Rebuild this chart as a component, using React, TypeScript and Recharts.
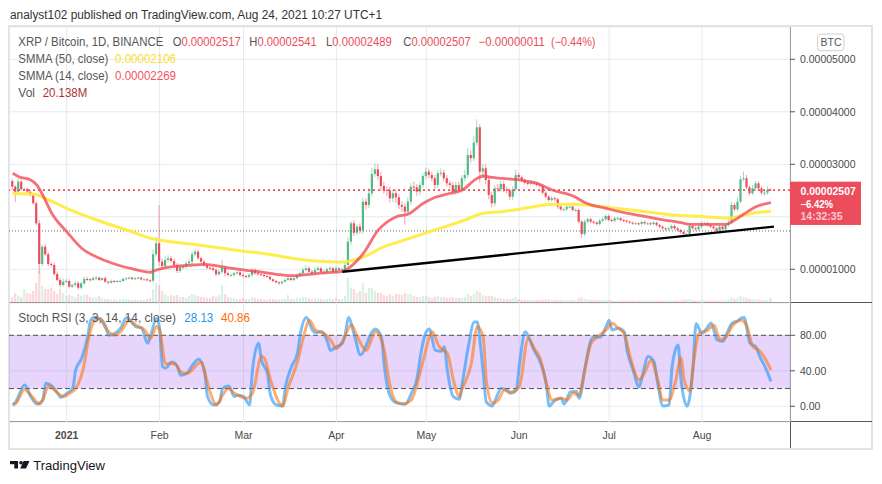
import React from 'react';
import { ComposedChart, Bar, Line, XAxis, YAxis, CartesianGrid, ReferenceLine, ReferenceArea } from 'recharts';

// ---------- DATA (prices in satoshi = 1e-8 BTC, day index 0 = 2020-12-14) ----------
const firstOpen = 2682;
const closes = [
  2574, 2478, 2669, 2524, 2530, 2478, 2415, 2257, 1876, 1101,
  1431, 1286, 1101, 1082, 910, 796, 701, 764, 777, 669,
  701, 733, 649, 733, 815, 810, 796, 829, 840, 796,
  829, 764, 745, 777, 764, 777, 777, 815, 829, 840,
  815, 829, 840, 810, 810, 790, 783, 1286, 1495, 1145,
  1063, 1177, 1210, 1158, 1082, 968, 1050, 1044, 1114, 1145,
  1286, 1335, 1210, 1145, 1082, 1030, 1019, 987, 905, 954,
  1030, 924, 891, 891, 924, 943, 891, 872, 859, 891,
  987, 924, 905, 891, 872, 859, 810, 777, 752, 733,
  764, 796, 829, 796, 829, 891, 924, 987, 1019, 954,
  924, 987, 1019, 954, 954, 1000, 1019, 954, 1019, 987,
  1000, 1082, 1526, 1876, 1697, 1812, 1735, 2288, 2225, 2448,
  2815, 2905, 2777, 2587, 2511, 2497, 2353, 2448, 2372, 2225,
  2193, 2097, 2288, 2574, 2562, 2478, 2606, 2777, 2859, 2796,
  2734, 2606, 2829, 2840, 2734, 2638, 2606, 2478, 2606, 2511,
  2734, 2796, 3177, 3115, 3412, 3705, 2859, 2924, 2701, 2415,
  2257, 2543, 2524, 2625, 2524, 2497, 2383, 2524, 2796, 2753,
  2701, 2650, 2625, 2650, 2638, 2606, 2587, 2459, 2383, 2320,
  2353, 2334, 2193, 2143, 2143, 2193, 2193, 2130, 2130, 1907,
  1672, 1907, 1953, 1907, 1888, 1863, 1926, 1953, 2015, 1939,
  1926, 1972, 1972, 1939, 1926, 1907, 1888, 1876, 1876, 1863,
  1901, 1876, 1876, 1863, 1888, 1844, 1812, 1781, 1762, 1781,
  1825, 1781, 1749, 1711, 1672, 1672, 1825, 1781, 1762, 1812,
  1876, 1876, 1844, 1812, 1781, 1735, 1812, 1762, 1844, 1888,
  2225, 2143, 2288, 2715, 2734, 2562, 2448, 2543, 2638, 2543,
  2459, 2459, 2517, 2507,
];
const wickUp = [
  40, 30, 60, 40, 30, 25, 30, 30, 40, 60,
  40, 50, 40, 30, 40, 50, 40, 60, 40, 30,
  30, 40, 40, 30, 50, 40, 30, 40, 30, 20,
  20, 30, 20, 30, 20, 20, 30, 30, 20, 30,
  20, 20, 30, 20, 20, 20, 20, 80, 120, 730,
  60, 80, 60, 40, 40, 40, 40, 30, 40, 40,
  60, 60, 40, 30, 30, 30, 30, 40, 30, 40,
  150, 40, 30, 30, 30, 30, 30, 30, 20, 30,
  40, 30, 30, 20, 30, 20, 20, 20, 20, 20,
  20, 30, 30, 20, 30, 30, 30, 40, 60, 40,
  30, 50, 40, 30, 30, 30, 40, 30, 40, 30,
  30, 60, 80, 40, 60, 50, 60, 80, 60, 100,
  120, 110, 100, 80, 80, 70, 80, 60, 70, 70,
  70, 60, 80, 70, 100, 60, 60, 60, 80, 60,
  60, 60, 60, 80, 60, 60, 50, 60, 60, 60,
  60, 100, 130, 80, 120, 150, 60, 80, 70, 60,
  60, 60, 80, 60, 60, 50, 40, 60, 100, 40,
  40, 30, 30, 40, 30, 30, 30, 30, 30, 30,
  40, 30, 30, 30, 30, 30, 30, 30, 30, 30,
  30, 40, 30, 30, 30, 30, 30, 40, 30, 30,
  30, 30, 30, 20, 20, 20, 20, 20, 20, 20,
  30, 30, 20, 20, 30, 20, 20, 20, 20, 30,
  30, 30, 20, 20, 20, 30, 50, 30, 30, 40,
  40, 30, 30, 20, 20, 20, 30, 20, 30, 60,
  60, 40, 70, 60, 130, 60, 40, 60, 40, 40,
  40, 40, 60, 24,
];
const wickDown = [
  60, 200, 40, 30, 30, 30, 30, 30, 40, 180,
  40, 30, 40, 40, 30, 30, 40, 30, 30, 30,
  30, 30, 40, 30, 30, 30, 30, 20, 30, 20,
  20, 20, 30, 20, 20, 20, 20, 20, 20, 20,
  20, 20, 20, 20, 20, 20, 30, 40, 40, 80,
  60, 40, 40, 40, 40, 40, 40, 30, 30, 30,
  40, 40, 30, 30, 30, 30, 30, 30, 40, 30,
  40, 60, 30, 30, 30, 30, 30, 30, 30, 30,
  40, 30, 30, 20, 30, 20, 20, 20, 20, 30,
  20, 20, 20, 20, 30, 20, 20, 20, 30, 30,
  30, 20, 30, 30, 30, 20, 40, 30, 30, 30,
  30, 40, 30, 60, 60, 50, 60, 60, 80, 60,
  60, 60, 80, 90, 70, 100, 80, 70, 110, 80,
  100, 250, 80, 60, 60, 80, 60, 60, 60, 60,
  60, 80, 60, 60, 60, 60, 60, 60, 60, 80,
  60, 60, 60, 80, 60, 60, 200, 120, 80, 80,
  80, 60, 50, 50, 60, 50, 60, 60, 40, 40,
  30, 40, 30, 30, 30, 30, 30, 30, 30, 30,
  30, 30, 40, 30, 30, 30, 30, 30, 30, 30,
  80, 40, 30, 30, 30, 30, 30, 30, 30, 30,
  30, 30, 30, 30, 30, 30, 30, 30, 20, 30,
  30, 30, 30, 30, 30, 30, 30, 30, 30, 30,
  30, 30, 30, 30, 60, 40, 30, 30, 30, 30,
  30, 30, 30, 30, 30, 30, 30, 30, 30, 30,
  30, 40, 40, 30, 40, 40, 40, 30, 40, 30,
  40, 60, 40, 18,
];
const volumes = [
  24, 40, 30, 24, 56, 40, 36, 48, 80, 128,
  68, 56, 56, 60, 48, 36, 56, 40, 28, 32,
  28, 24, 36, 28, 32, 32, 24, 20, 24, 28,
  20, 16, 16, 14, 14, 12, 14, 16, 16, 14,
  12, 14, 12, 12, 14, 16, 20, 56, 80, 72,
  48, 36, 28, 32, 28, 32, 24, 24, 20, 28,
  36, 32, 28, 24, 24, 20, 20, 28, 24, 32,
  72, 36, 24, 20, 20, 16, 16, 20, 16, 16,
  24, 20, 16, 16, 14, 12, 16, 16, 14, 14,
  14, 16, 32, 16, 16, 20, 20, 24, 24, 20,
  16, 20, 20, 16, 14, 16, 20, 16, 20, 16,
  16, 28, 100, 60, 56, 40, 48, 80, 40, 60,
  60, 48, 40, 40, 32, 28, 36, 28, 36, 36,
  32, 40, 36, 36, 28, 24, 24, 28, 28, 24,
  20, 24, 28, 24, 24, 20, 20, 24, 20, 20,
  20, 24, 36, 28, 36, 48, 44, 32, 28, 28,
  28, 24, 20, 20, 16, 16, 16, 20, 24, 16,
  14, 12, 12, 12, 12, 12, 12, 14, 14, 14,
  12, 12, 14, 12, 12, 12, 12, 12, 12, 20,
  24, 16, 14, 12, 12, 12, 12, 12, 12, 12,
  12, 10, 10, 10, 10, 10, 10, 10, 10, 10,
  10, 10, 10, 10, 10, 10, 10, 10, 10, 10,
  10, 10, 10, 10, 14, 14, 16, 12, 10, 12,
  12, 10, 10, 10, 10, 10, 10, 10, 12, 14,
  24, 16, 20, 28, 24, 20, 16, 16, 14, 14,
  12, 12, 12, 20,
];
const smma50Days = [0, 7, 12, 18, 29, 40, 46, 51, 62, 74, 85, 96, 104, 110, 116, 124, 129, 140, 151, 157, 163, 174, 179, 187, 198, 209, 220, 231, 239, 243, 248, 253];
const smma50Vals = [2444, 2429, 2320, 2162, 1920, 1711, 1591, 1539, 1463, 1368, 1291, 1187, 1149, 1139, 1210, 1431, 1526, 1735, 1939, 2067, 2097, 2193, 2234, 2238, 2181, 2111, 2034, 2002, 1972, 2021, 2078, 2106];
const smma14Days = [0, 2, 6, 8, 10, 13, 18, 23, 29, 35, 40, 46, 47, 50, 60, 64, 71, 77, 82, 88, 93, 99, 105, 109, 111, 117, 122, 128, 132, 137, 141, 146, 150, 155, 157, 160, 169, 175, 180, 187, 191, 198, 204, 211, 216, 223, 226, 231, 238, 240, 244, 248, 253];
const smma14Vals = [2829, 2764, 2701, 2606, 2415, 2067, 1716, 1400, 1210, 1082, 1006, 943, 968, 1019, 1082, 1095, 1038, 987, 954, 905, 878, 905, 935, 949, 987, 1305, 1749, 2002, 2053, 2257, 2372, 2448, 2511, 2734, 2777, 2749, 2701, 2638, 2511, 2396, 2269, 2162, 2078, 2006, 1953, 1888, 1857, 1857, 1857, 1907, 2053, 2193, 2269];
const trendDays = [110, 254];
const trendVals = [954, 1813];
const stochKDays = [0, 1, 4, 6, 8, 10, 11, 13, 15, 16, 18, 20, 21, 23, 25, 26, 27, 29, 31, 32, 34, 36, 38, 40, 41, 43, 45, 46, 48, 49, 50, 51, 53, 55, 56, 58, 60, 62, 64, 65, 67, 69, 70, 72, 74, 75, 77, 79, 80, 82, 83, 85, 86, 88, 90, 91, 93, 95, 96, 98, 100, 101, 103, 105, 106, 108, 110, 111, 112, 114, 116, 118, 119, 121, 123, 124, 126, 128, 129, 131, 133, 135, 136, 138, 139, 141, 143, 144, 145, 147, 149, 150, 152, 154, 155, 156, 157, 158, 160, 161, 163, 165, 166, 168, 169, 171, 173, 174, 176, 178, 179, 181, 183, 184, 186, 188, 189, 191, 193, 194, 196, 198, 199, 200, 202, 204, 205, 207, 209, 210, 212, 214, 215, 217, 219, 220, 222, 223, 225, 227, 228, 230, 232, 233, 235, 237, 238, 240, 242, 243, 244, 246, 248, 249, 251, 253];
const stochKVals = [1.5, 5, 24, 11, 2.6, 7, 26, 23, 14.6, 10, 14.6, 20, 41, 54, 78, 97, 100, 99, 90, 80, 82, 88, 100, 93.5, 90, 88, 71, 80, 99, 88, 44.6, 43, 50, 44.6, 35, 37, 46.5, 53, 39, 11, 1.5, 5, 20, 23, 11, 12.5, 11, 1.5, 41, 71, 52, 37, 12.5, 1.5, 0.3, 22, 44.6, 60, 82, 100, 86, 83, 84, 73, 63, 67, 71, 82, 100, 80, 58, 69, 78, 87, 78, 44.6, 11, 4, 3.4, 2.6, 14.6, 33, 56, 84, 87, 63, 62, 67, 41, 11, 8, 26, 67, 95, 95, 71, 37, 5, 0.3, 7, 20, 18, 14.6, 18, 44.6, 84, 71, 63, 50, 26, 0.3, 7, 9, 2.6, 16, 17, 9, 44.6, 75, 78, 78, 90, 97, 86, 88, 84, 63, 41, 22, 33, 56, 50, 30, 0.3, 1.5, 44.6, 69, 30, 0, 44.6, 93, 82, 90, 94, 75, 73, 80, 93.5, 96.5, 99, 100, 71, 67, 58, 44.6, 28.13];
const stochDDays = [0, 1, 4, 6, 9, 10, 12, 14, 17, 19, 21, 24, 25, 27, 29, 31, 34, 36, 39, 41, 44, 46, 48, 49, 51, 54, 56, 58, 63, 64, 66, 68, 70, 72, 74, 76, 78, 80, 83, 84, 86, 89, 90, 92, 95, 97, 99, 101, 104, 106, 108, 110, 113, 115, 118, 120, 121, 124, 125, 126, 128, 130, 133, 135, 137, 140, 142, 143, 145, 147, 149, 150, 153, 155, 157, 158, 160, 162, 164, 166, 169, 172, 174, 176, 178, 180, 183, 185, 187, 189, 190, 193, 195, 198, 200, 202, 204, 206, 209, 211, 213, 215, 217, 219, 221, 223, 224, 226, 227, 229, 232, 234, 236, 238, 240, 243, 245, 247, 249, 251, 253];
const stochDVals = [1.5, 3, 19, 12.7, 2.6, 7, 23, 18, 11, 14.6, 20, 50, 71, 95, 99, 88, 80, 84, 97, 91.6, 86, 76.6, 90, 86, 48, 48, 39, 37, 50, 39, 14.6, 1.5, 12.5, 20, 14.6, 11, 9, 14.6, 56, 54, 30, 3.4, 0.3, 22, 50, 78, 97, 86, 82, 75, 65, 73, 91.6, 78, 63, 78, 84, 63, 40, 22, 5, 2.6, 7, 26, 52, 84, 69, 65, 60, 30, 11, 20, 48, 90, 78, 30, 3.4, 7, 18, 16, 22, 76.6, 65, 54, 26, 7, 9, 7, 14.6, 12.5, 26, 71, 78, 86, 93.5, 88, 82, 56, 30, 39, 52, 33, 7, 7, 26, 54, 30, 17, 44.6, 82, 86, 91.6, 75, 78, 90, 97, 90, 67, 63, 54, 40.86];
const monthTickDays = [18, 49, 77, 108, 138, 169, 199, 230];
const monthTickLabels = ['2021', 'Feb', 'Mar', 'Apr', 'May', 'Jun', 'Jul', 'Aug'];
const priceAxisTicks = [1000, 3000, 4000, 5000];
const priceGridTicks = [1000, 2000, 3000, 4000, 5000];
const stochTicks = [0, 40, 80];
const lastPrice = 2507;
const markerPrice = 1730;

// ---------- STYLE ----------
const FONT = '"Liberation Sans", Arial, sans-serif';
const GREEN = '#53b987';
const RED = '#eb4d5c';
const GRID = '#e3ebf1';
const AXIS = '#555';
const X_DOMAIN: [number, number] = [-1.25, 259.35];
const PRICE_DOMAIN: [number, number] = [358, 5615];
const STOCH_DOMAIN: [number, number] = [-17.7, 116.4];

// ---------- DERIVED TABLES ----------
const candles = closes.map((c, i) => {
  const o = i === 0 ? firstOpen : closes[i - 1];
  const high = Math.max(o, c) + wickUp[i];
  const low = Math.min(o, c) - wickDown[i];
  return { i, open: o, close: c, high, low, range: [low, high], vol: volumes[i] };
});
const toSeries = (days: number[], vals: number[]) => days.map((d, k) => ({ i: d, v: vals[k] }));
const smma50 = toSeries(smma50Days, smma50Vals);
const smma14 = toSeries(smma14Days, smma14Vals);
const trend = toSeries(trendDays, trendVals);
const stochK = toSeries(stochKDays, stochKVals);
const stochD = toSeries(stochDDays, stochDVals);

const fmtPrice = (v: number) => (v / 1e8).toFixed(8);

const CandleShape = (props: any) => {
  const { x, y, width, height, payload } = props;
  if (!payload || x == null || y == null) return null;
  const top = Math.min(y, y + height);
  const bot = Math.max(y, y + height);
  const { open, close, high, low } = payload;
  const span = high - low || 1;
  const py = (v: number) => top + ((high - v) / span) * (bot - top);
  const cx = x + width / 2;
  const color = close >= open ? GREEN : RED;
  const bTop = py(Math.max(open, close));
  const bBot = py(Math.min(open, close));
  return (
    <g>
      <line x1={cx} x2={cx} y1={top} y2={bot} stroke={color} strokeOpacity={0.55} strokeWidth={1} />
      <rect x={cx - 1.1} y={bTop} width={2.2} height={Math.max(1, bBot - bTop)} fill={color} />
    </g>
  );
};

const VolShape = (props: any) => {
  const { x, y, width, height, payload } = props;
  if (!payload || x == null) return null;
  const cx = x + width / 2;
  const color = payload.close >= payload.open ? GREEN : RED;
  return <rect x={cx - 1.1} y={y} width={2.2} height={Math.max(0, height)} fill={color} fillOpacity={0.22} />;
};

const PriceTag = (props: any) => {
  const vb = props.viewBox || {};
  const x0 = (vb.x || 0) + (vb.width || 0);
  const yl = vb.y || 0;
  return (
    <g fontFamily={FONT}>
      <rect x={x0} y={yl - 8.5} width={71} height={43.3} fill={RED} />
      <text x={x0 + 10.5} y={yl + 4.6} fill="#fff" fontSize={10.5} fontWeight="bold" textLength={55.3} lengthAdjust="spacingAndGlyphs">0.00002507</text>
      <text x={x0 + 10.5} y={yl + 17.6} fill="#fff" fontSize={10.5} fontWeight="bold" textLength={32.6} lengthAdjust="spacingAndGlyphs">−6.42%</text>
      <text x={x0 + 10.5} y={yl + 29.6} fill="#fff" fillOpacity={0.72} fontSize={10.5} fontWeight="bold" textLength={42} lengthAdjust="spacingAndGlyphs">14:32:35</text>
    </g>
  );
};

const MonthTick = (props: any) => {
  const { x, y, payload } = props;
  const k = monthTickDays.indexOf(payload.value);
  const label = monthTickLabels[k] || '';
  return (
    <text x={x} y={y + 16.5} textAnchor="middle" fontSize={10.5} fontFamily={FONT} fill="#4a4a4a" fontWeight={label === '2021' ? 'bold' : 'normal'}>
      {label}
    </text>
  );
};

const T = (p: any) => (
  <text x={p.x} y={p.y} fill={p.fill || '#555'} fontSize={p.size || 12} fontWeight={p.weight} textAnchor={p.anchor} textLength={p.w} lengthAdjust="spacingAndGlyphs">
    {p.children}
  </text>
);

// label letter (gray) + value (red) in one text element
const LV = (p: any) => (
  <text x={p.x} y={p.y} fontSize={12} textLength={p.w} lengthAdjust="spacingAndGlyphs">
    <tspan fill="#555">{p.label}</tspan>
    <tspan fill={RED}>{p.value}</tspan>
  </text>
);

const axisTick = { fontSize: 10.5, fill: '#4a4a4a', fontFamily: FONT };

export default function App() {
  return (
    <div style={{ position: 'absolute', left: 0, top: 0, width: 882, height: 484, background: '#fff', fontFamily: FONT }}>
      {/* frame & separators (under charts) */}
      <svg width={882} height={484} style={{ position: 'absolute', left: 0, top: 0 }}>
        <rect x={9} y={26} width={863} height={423} fill="none" stroke="#e3e3e3" strokeWidth={2} />
        <line x1={9} x2={872} y1={302.5} y2={302.5} stroke={AXIS} strokeWidth={1} />
        <line x1={9} x2={872} y1={421.5} y2={421.5} stroke={AXIS} strokeWidth={1} />
        <line x1={790.5} x2={790.5} y1={27} y2={448} stroke={AXIS} strokeWidth={1} />
      </svg>

      {/* grid + volume */}
      <div style={{ position: 'absolute', left: 9, top: 27 }}>
        <ComposedChart width={862} height={276} data={candles} margin={{ top: 0, right: 81, bottom: 0, left: 0 }}>
          <XAxis type="number" dataKey="i" domain={X_DOMAIN} allowDataOverflow ticks={monthTickDays} interval={0} hide />
          <YAxis yAxisId="p" type="number" domain={PRICE_DOMAIN} allowDataOverflow ticks={priceGridTicks} interval={0} hide />
          <YAxis yAxisId="v" type="number" domain={[0, 1104]} allowDataOverflow hide />
          <CartesianGrid yAxisId="p" stroke={GRID} strokeWidth={1} />
          <Bar yAxisId="v" dataKey="vol" barSize={2} shape={(p: any) => <VolShape {...p} />} isAnimationActive={false} />
        </ComposedChart>
      </div>

      {/* price pane */}
      <div style={{ position: 'absolute', left: 9, top: 27 }}>
        <ComposedChart width={862} height={276} data={candles} margin={{ top: 0, right: 0, bottom: 0, left: 0 }}>
          <XAxis type="number" dataKey="i" domain={X_DOMAIN} allowDataOverflow hide />
          <YAxis yAxisId="p" orientation="right" type="number" domain={PRICE_DOMAIN} allowDataOverflow ticks={priceAxisTicks} interval={0} width={81}
            axisLine={false} tickLine={{ stroke: AXIS }} tickSize={5} tickMargin={5} tick={axisTick} tickFormatter={fmtPrice} />
          <ReferenceLine yAxisId="p" y={markerPrice} stroke="#666" strokeDasharray="1 2" />
          <ReferenceLine yAxisId="p" y={lastPrice} stroke={RED} strokeWidth={1.8} strokeDasharray="2 3" label={<PriceTag />} />
          <Bar yAxisId="p" dataKey="range" barSize={2} shape={(p: any) => <CandleShape {...p} />} isAnimationActive={false} />
          <Line yAxisId="p" data={smma50} dataKey="v" type="monotone" stroke="#ffeb3b" strokeOpacity={0.9} strokeWidth={3} dot={false} isAnimationActive={false} />
          <Line yAxisId="p" data={smma14} dataKey="v" type="monotone" stroke="#f44c55" strokeOpacity={0.8} strokeWidth={2.8} dot={false} isAnimationActive={false} />
          <Line yAxisId="p" data={trend} dataKey="v" type="linear" stroke="#000" strokeWidth={2.4} dot={false} isAnimationActive={false} />
        </ComposedChart>
      </div>

      {/* stoch RSI pane */}
      <div style={{ position: 'absolute', left: 9, top: 303 }}>
        <ComposedChart width={862} height={146} margin={{ top: 0, right: 0, bottom: 0, left: 0 }}>
          <XAxis type="number" dataKey="i" domain={X_DOMAIN} allowDataOverflow ticks={monthTickDays} interval={0} height={27}
            axisLine={false} tickLine={false} tickSize={0} tickMargin={0} tick={<MonthTick />} />
          <YAxis orientation="right" type="number" domain={STOCH_DOMAIN} allowDataOverflow ticks={stochTicks} interval={0} width={81}
            axisLine={false} tickLine={{ stroke: AXIS }} tickSize={5} tickMargin={5} tick={axisTick} tickFormatter={(v: number) => v.toFixed(2)} />
          <CartesianGrid stroke={GRID} strokeWidth={1} />
          <ReferenceArea y1={20} y2={80} fill="rgb(155,80,240)" fillOpacity={0.24} stroke="none" />
          <ReferenceLine y={80} stroke={AXIS} strokeDasharray="5 3" />
          <ReferenceLine y={20} stroke={AXIS} strokeDasharray="5 3" />
          <Line data={stochK} dataKey="v" type="monotone" stroke="#2196f3" strokeOpacity={0.6} strokeWidth={3} dot={false} isAnimationActive={false} />
          <Line data={stochD} dataKey="v" type="monotone" stroke="#ff6d00" strokeOpacity={0.55} strokeWidth={3} dot={false} isAnimationActive={false} />
        </ComposedChart>
      </div>

      {/* texts */}
      <svg width={882} height={484} style={{ position: 'absolute', left: 0, top: 0, pointerEvents: 'none' }} fontFamily={FONT}>
        <T x={10} y={19.3} w={372} fill="#333" size={12.5}>analyst102 published on TradingView.com, Aug 24, 2021 10:27 UTC+1</T>

        <T x={18.3} y={45.7} w={145}>XRP / Bitcoin, 1D, BINANCE</T>
        <LV x={172.7} y={45.7} w={68} label="O" value="0.00002517" />
        <LV x={249.3} y={45.7} w={67.4} label="H" value="0.00002541" />
        <LV x={326} y={45.7} w={65.7} label="L" value="0.00002489" />
        <LV x={403.3} y={45.7} w={67.4} label="C" value="0.00002507" />
        <T x={478.5} y={45.7} w={66.5} fill={RED}>−0.00000011</T>
        <T x={551} y={45.7} w={44.5} fill={RED}>(−0.44%)</T>

        <T x={18.3} y={63} w={90}>SMMA (50, close)</T>
        <T x={115} y={63} w={61} fill="#f7dd2a">0.00002106</T>
        <T x={18.3} y={80} w={90}>SMMA (14, close)</T>
        <T x={115} y={80} w={61} fill="#f0545f">0.00002269</T>
        <T x={18.3} y={96.7} w={16.7}>Vol</T>
        <T x={42.7} y={96.7} w={44.6} fill="#a83232">20.138M</T>

        <rect x={817.5} y={34} width={26.5} height={16.7} rx={3} fill="#fff" stroke="#cfcfcf" />
        <T x={831} y={46} size={10.5} anchor="middle" fill="#555">BTC</T>

        <T x={18.3} y={321.7} w={157.7}>Stoch RSI (3, 3, 14, 14, close)</T>
        <T x={184.3} y={321.7} w={29} fill="#2196f3">28.13</T>
        <T x={221} y={321.7} w={29} fill="#ff6d00">40.86</T>

        <g fill="#131722">
          <rect x={10} y={461} width={8} height={3.2} />
          <rect x={14.3} y={461} width={3.7} height={7.5} />
          <circle cx={21} cy={462.8} r={1.8} />
          <polygon points="23.6,461 29.5,461 26,468.5 20.2,468.5" />
        </g>
        <T x={33.3} y={470} w={71.7} size={13.5} fill="#131722">TradingView</T>
      </svg>
    </div>
  );
}
